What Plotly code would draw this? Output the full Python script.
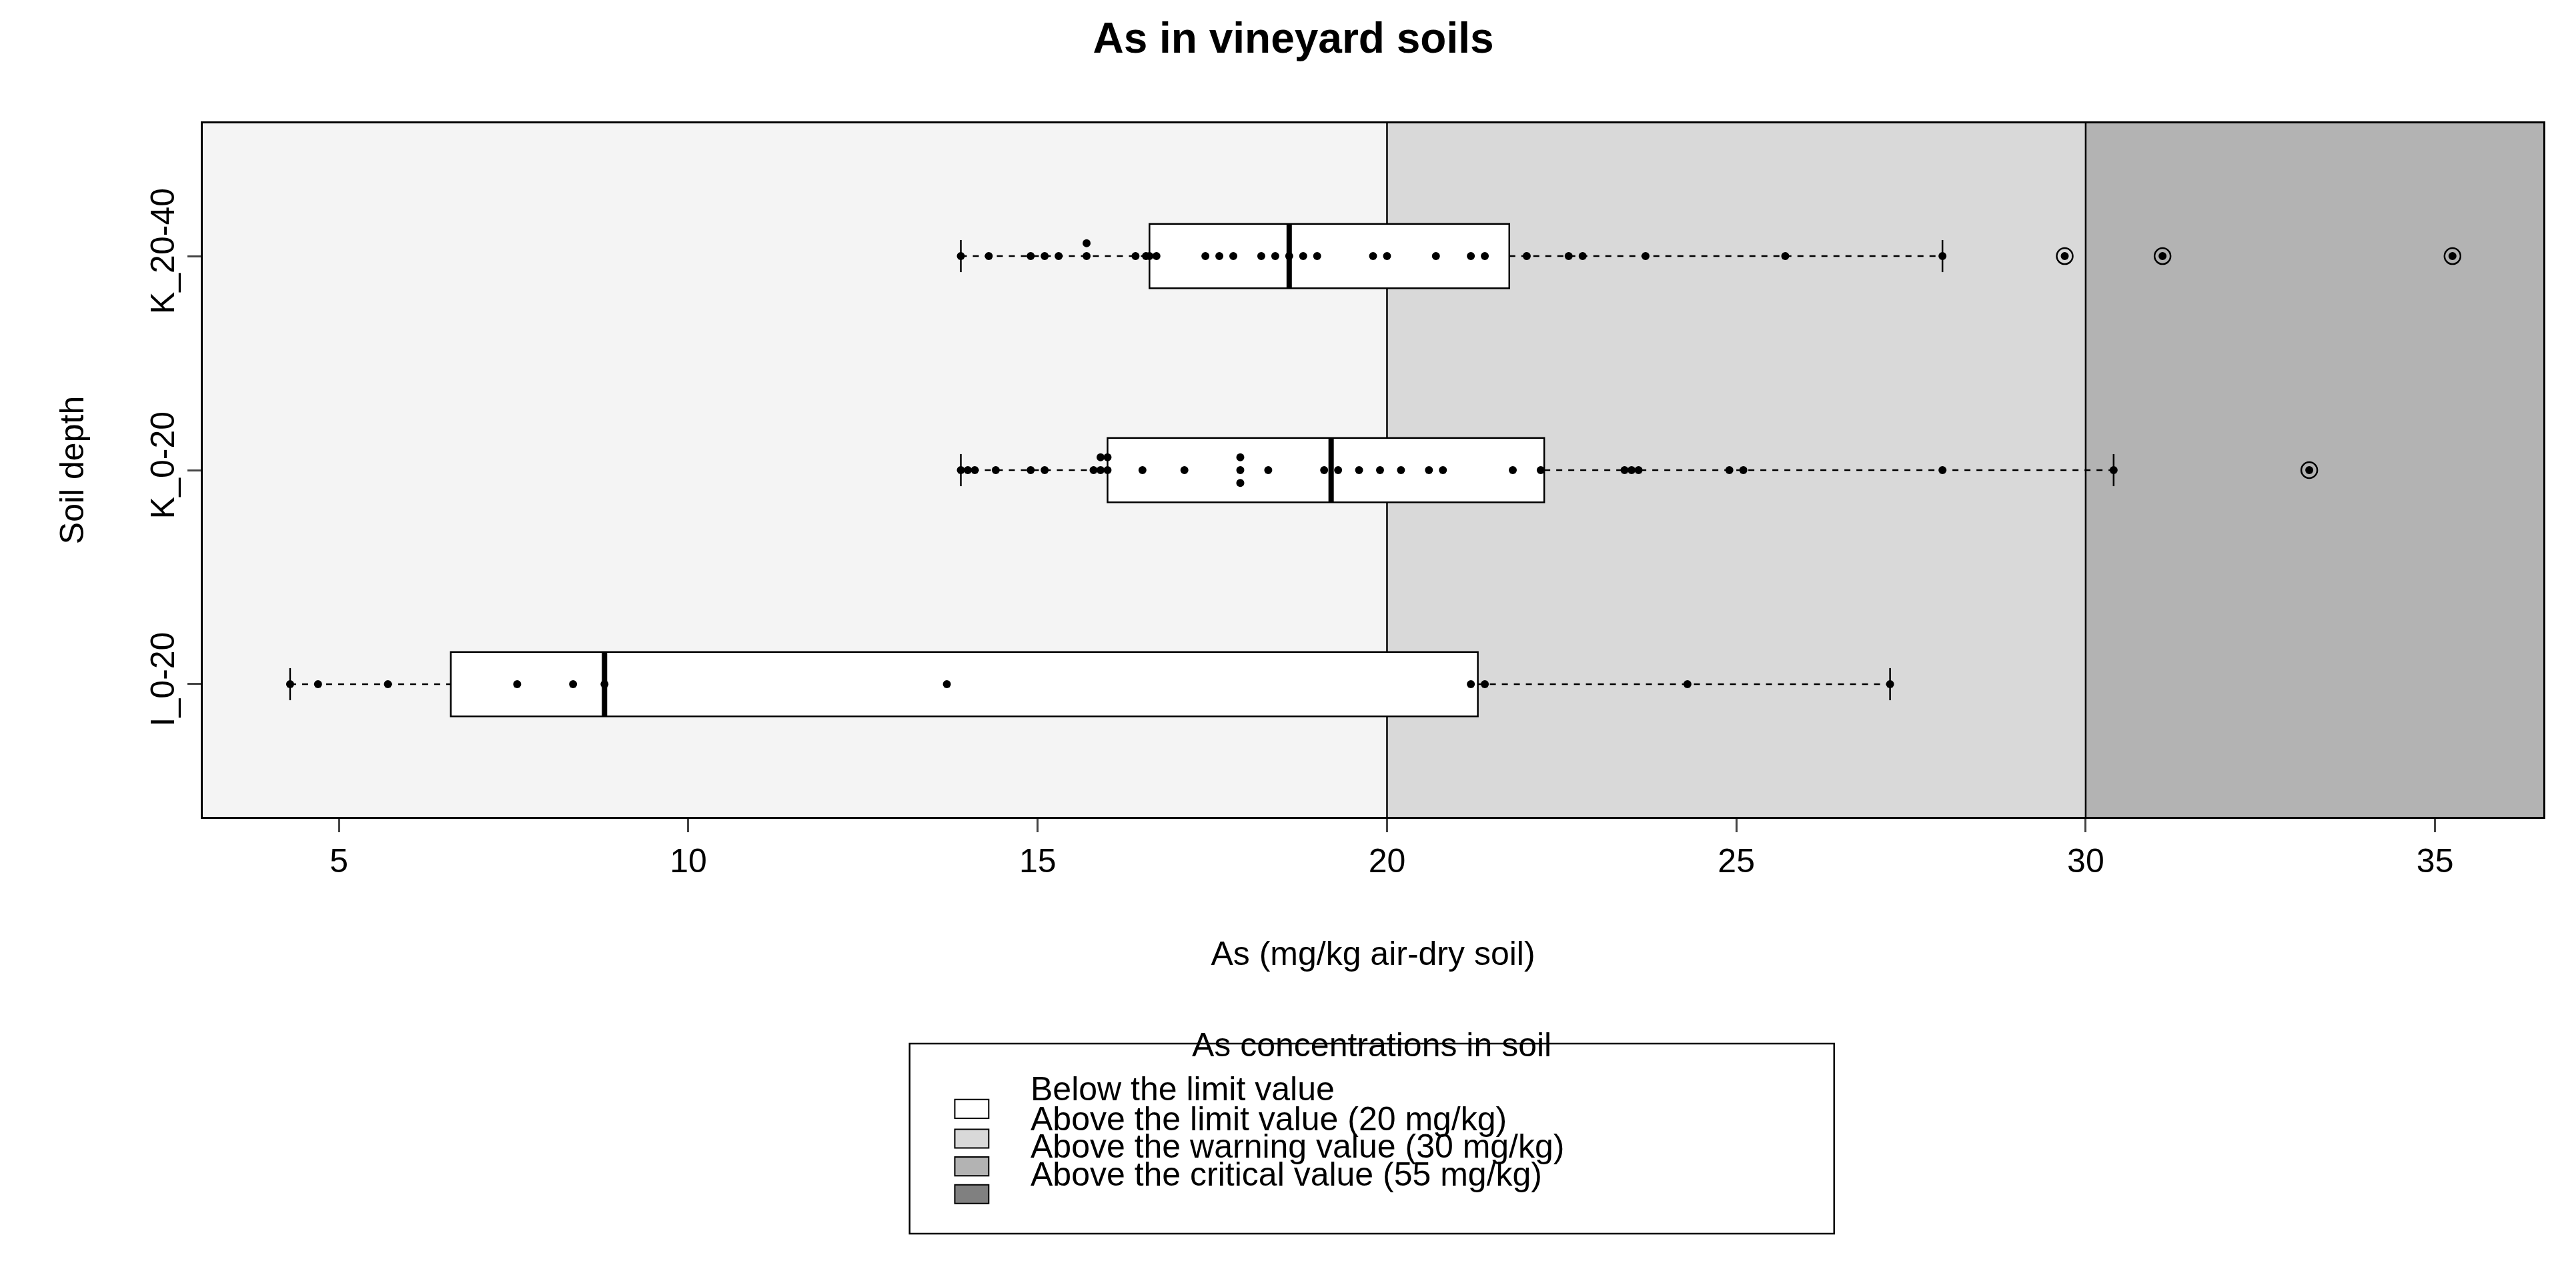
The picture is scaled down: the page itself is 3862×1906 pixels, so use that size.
import plotly.graph_objects as go
from collections import Counter

categories = ["I_0-20", "K_0-20", "K_20-40"]
q1 = [6.6, 16.0, 16.6]
median = [8.8, 19.2, 18.6]
q3 = [21.3, 22.25, 21.75]
whisk_lo = [4.3, 13.9, 13.9]
whisk_hi = [27.2, 30.4, 27.95]
outliers = [[], [33.2], [29.7, 31.1, 35.25]]
points = [
    [4.3, 4.7, 5.7, 7.55, 8.35, 8.8, 13.7, 21.2, 21.4, 24.3, 27.2],
    [13.9, 14.0, 14.1, 14.4, 14.9, 15.1, 15.8, 15.9, 15.9, 16.0, 16.0, 16.5, 17.1,
     17.9, 17.9, 17.9, 18.3, 19.1, 19.3, 19.6, 19.9, 20.2, 20.6, 20.8, 21.8, 22.2,
     23.4, 23.5, 23.6, 24.9, 25.1, 27.95, 30.4, 33.2],
    [13.9, 14.3, 14.9, 15.1, 15.3, 15.7, 15.7, 16.4, 16.55, 16.6, 16.7, 17.4, 17.6,
     17.8, 18.2, 18.4, 18.6, 18.8, 19.0, 19.8, 20.0, 20.7, 21.2, 21.4, 22.0, 22.6,
     22.8, 23.7, 25.7, 27.95, 29.7, 31.1, 35.25],
]
zones = [(3.05, 20, "#f4f4f4"), (20, 30, "#d9d9d9"), (30, 36.55, "#b3b3b3")]
legend_title = "As concentrations in soil"
legend_labels = ["Below the limit value", "Above the limit value (20 mg/kg)",
                 "Above the warning value (30 mg/kg)", "Above the critical value (55 mg/kg)"]
legend_colors = ["#ffffff", "#d9d9d9", "#b3b3b3", "#808080"]

FS = 50
fig = go.Figure()
shapes = []
for x0, x1, c in zones:
    shapes.append(dict(type="rect", xref="x", yref="paper", x0=x0, x1=x1, y0=0, y1=1,
                       fillcolor=c, line=dict(width=0), layer="below"))
for xv in [20, 30]:
    shapes.append(dict(type="line", xref="x", yref="paper", x0=xv, x1=xv, y0=0, y1=1,
                       line=dict(color="black", width=2.5), layer="below"))

hw = 0.15
for i in range(3):
    y = i + 1
    fig.add_trace(go.Scatter(x=[whisk_lo[i], q1[i], None, q3[i], whisk_hi[i]],
                             y=[y, y, None, y, y], mode="lines",
                             line=dict(color="black", width=2.5, dash="dash"),
                             showlegend=False, hoverinfo="skip"))
    for xv in [whisk_lo[i], whisk_hi[i]]:
        shapes.append(dict(type="line", xref="x", yref="y", x0=xv, x1=xv,
                           y0=y - hw / 2, y1=y + hw / 2, line=dict(color="black", width=2.5)))
    shapes.append(dict(type="rect", xref="x", yref="y", x0=q1[i], x1=q3[i],
                       y0=y - hw, y1=y + hw, fillcolor="white",
                       line=dict(color="black", width=2.5), layer="below"))
    shapes.append(dict(type="line", xref="x", yref="y", x0=median[i], x1=median[i],
                       y0=y - hw, y1=y + hw, line=dict(color="black", width=8)))
    if outliers[i]:
        fig.add_trace(go.Scatter(x=outliers[i], y=[y] * len(outliers[i]), mode="markers",
                                 marker=dict(symbol="circle-open", size=24, color="black",
                                             line=dict(color="black", width=2.5)),
                                 showlegend=False, hoverinfo="skip"))
    seen = Counter()
    xs, ys = [], []
    for v in points[i]:
        k = seen[v]
        seen[v] += 1
        off = ((k + 1) // 2) * 0.06 * (1 if k % 2 else -1)
        xs.append(v)
        ys.append(y + off)
    fig.add_trace(go.Scatter(x=xs, y=ys, mode="markers",
                             marker=dict(color="black", size=12),
                             showlegend=False, hoverinfo="skip"))

shapes.append(dict(type="rect", xref="paper", yref="paper", x0=0.302, x1=0.697,
                   y0=-0.601, y1=-0.327, line=dict(color="black", width=2.5),
                   fillcolor="white", layer="below"))
annotations = [dict(text=legend_title, xref="paper", yref="paper", x=0.4995, y=-0.358,
                    showarrow=False, font=dict(size=FS, color="black"))]
ys_leg = [-0.421, -0.464, -0.504, -0.544]
for lab, col, yy in zip(legend_labels, legend_colors, ys_leg):
    shapes.append(dict(type="rect", xref="paper", yref="paper", x0=0.3213, x1=0.3358,
                       y0=yy - 0.0135, y1=yy + 0.0135, fillcolor=col,
                       line=dict(color="black", width=2)))
    annotations.append(dict(text=lab, xref="paper", yref="paper", x=0.353, y=yy,
                            xanchor="left", showarrow=False,
                            font=dict(size=FS, color="black")))

fig.update_layout(
    width=3862, height=1906,
    margin=dict(l=296, r=57, t=177, b=689),
    paper_bgcolor="white", plot_bgcolor="white",
    font=dict(family="Liberation Sans, Arial", color="black"),
    title=dict(text="<b>As in vineyard soils</b>", x=0.5, xanchor="center",
               y=1 - 49 / 1906, yanchor="middle", font=dict(size=64)),
    xaxis=dict(range=[3.05, 36.55], tickvals=[5, 10, 15, 20, 25, 30, 35],
               ticks="outside", ticklen=20, tickwidth=2.5, tickfont=dict(size=FS),
               showgrid=False, zeroline=False, showline=True, linecolor="black",
               linewidth=2.5, mirror=True,
               title=dict(text="As (mg/kg air-dry soil)", font=dict(size=FS), standoff=95)),
    yaxis=dict(range=[0.38, 3.62], tickvals=[1, 2, 3], ticktext=categories,
               tickangle=-90, ticks="outside", ticklen=20, tickwidth=2.5,
               tickfont=dict(size=FS), showgrid=False, zeroline=False, showline=True,
               linecolor="black", linewidth=2.5, mirror=True,
               title=dict(text="Soil depth", font=dict(size=FS), standoff=75)),
    shapes=shapes, annotations=annotations,
)
fig.write_html("out.html")
